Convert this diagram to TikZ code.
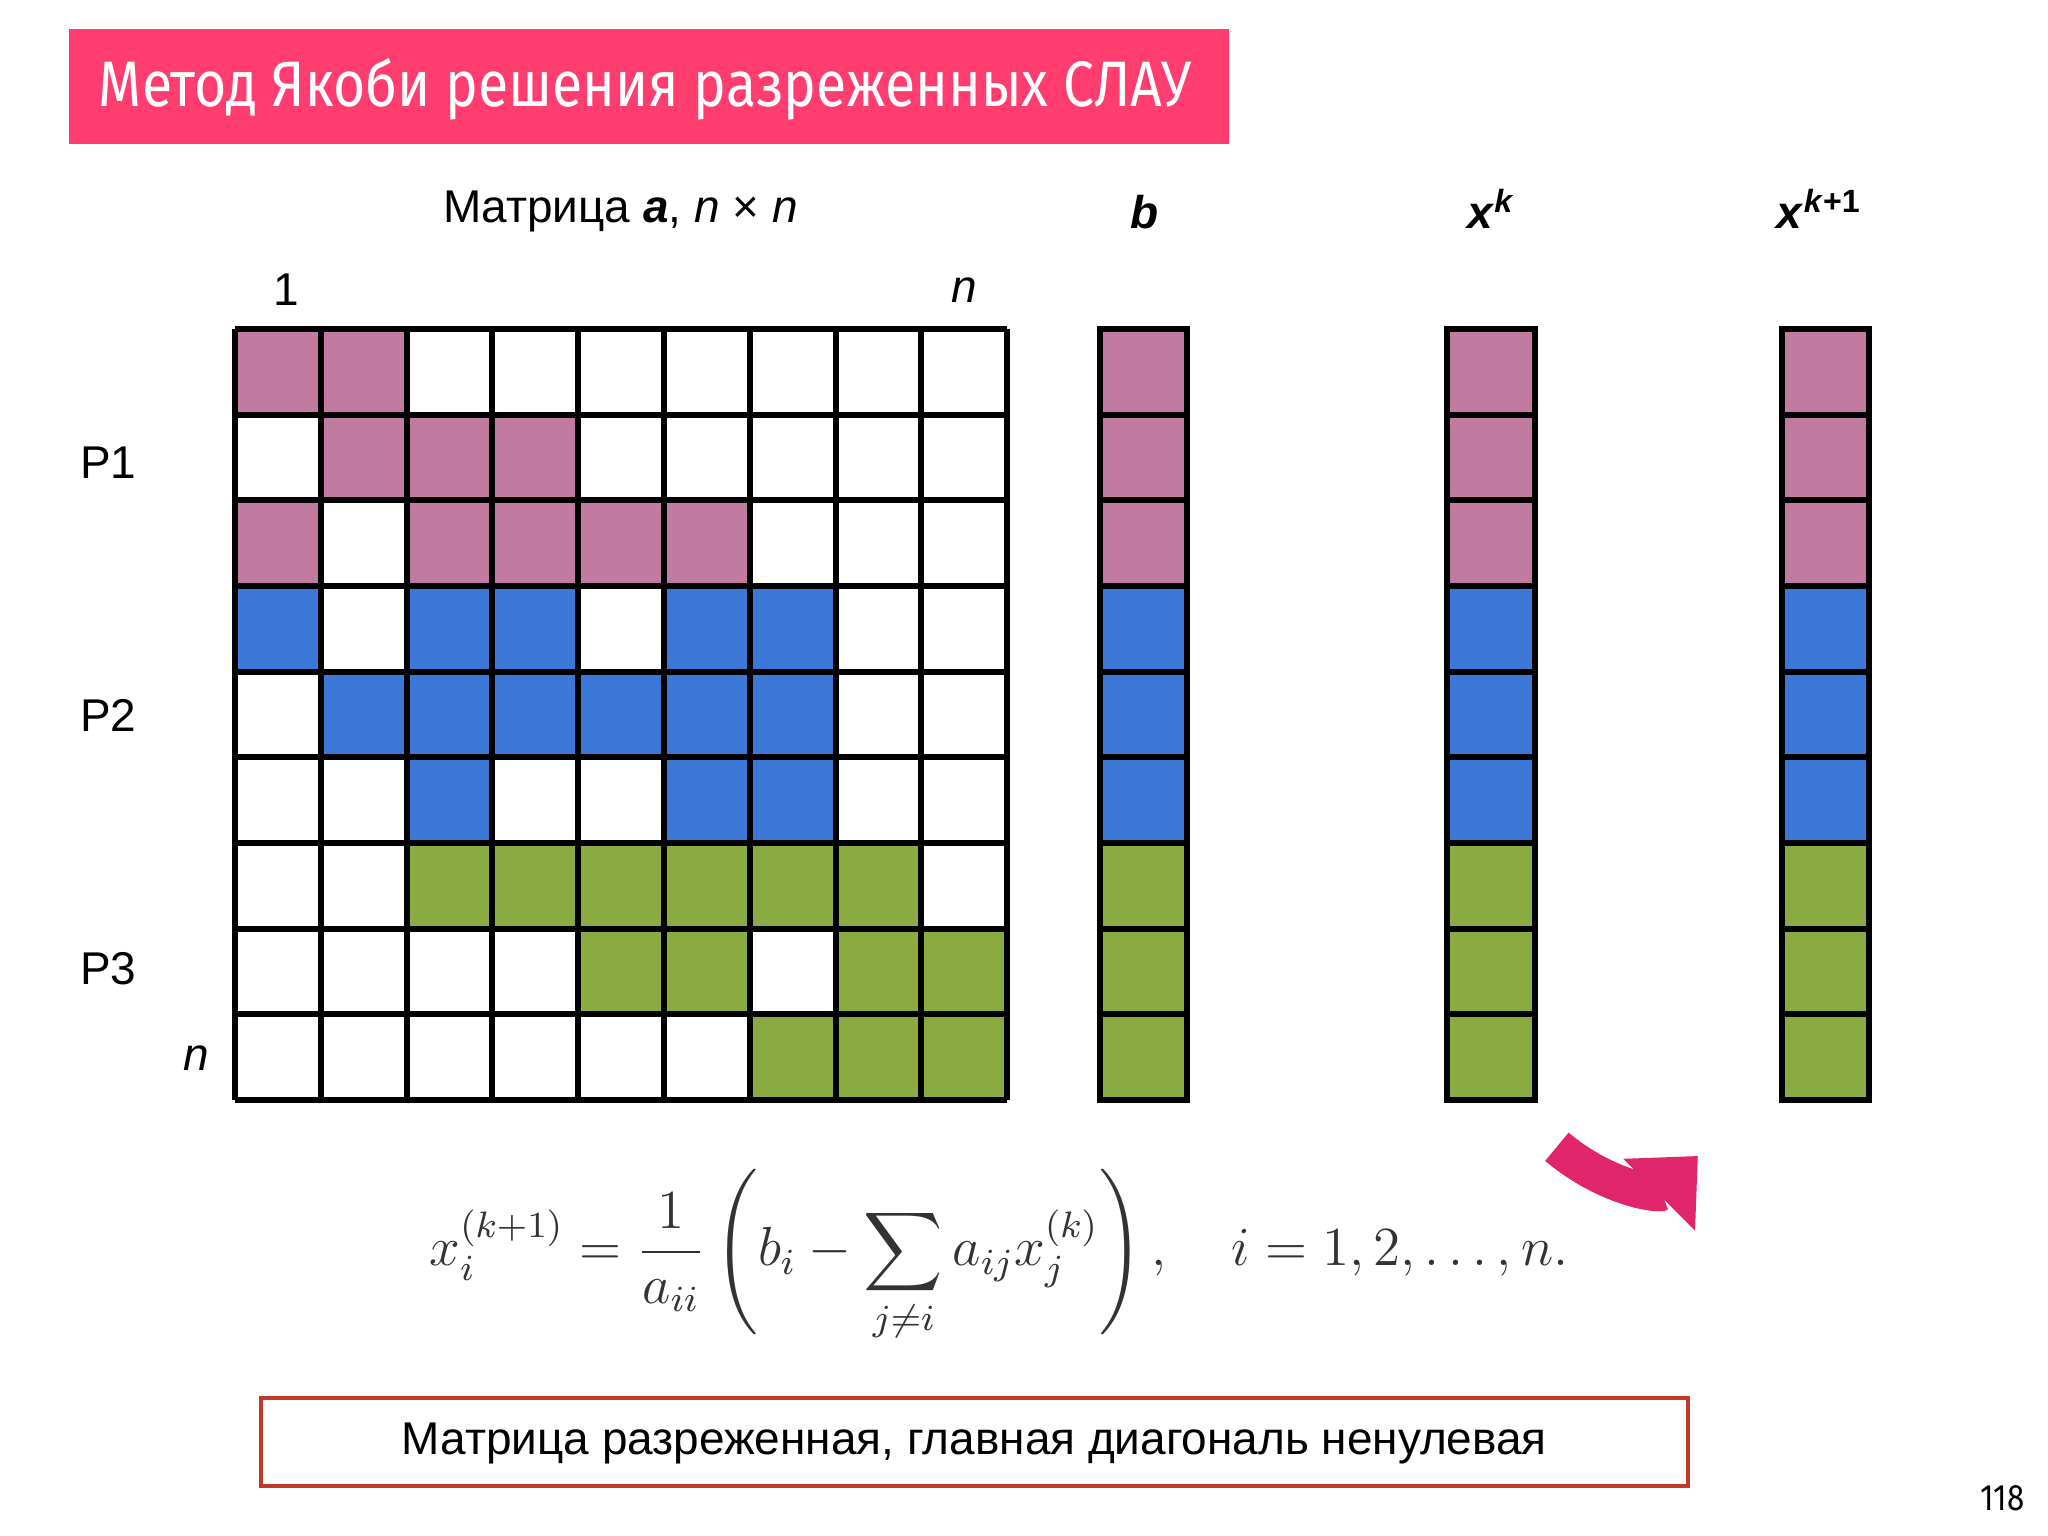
\documentclass[tikz,border=0pt]{standalone}
\usepackage{fontspec}
\usepackage{amsmath}
\setmainfont{Liberation Sans}
\newfontfamily\titlefont{Fira Sans}
\usetikzlibrary{arrows.meta}
\definecolor{pk}{HTML}{C27BA0}
\definecolor{bl}{HTML}{3C78D8}
\definecolor{gr}{HTML}{8AAA42}
\definecolor{ttl}{HTML}{FF3D6E}
\definecolor{arr}{HTML}{E0256A}
\definecolor{boxred}{HTML}{C0392B}
\tikzset{cell/.style={draw=black,line width=1.3pt},lbl/.style={font=\fontsize{10}{12}\selectfont}}
\begin{document}
\begin{tikzpicture}[x=0.01cm,y=-0.01cm]
\useasboundingbox (0,0) rectangle (1568,1176);
\fill[white] (0,0) rectangle (1568,1176);
\node[fill=ttl,minimum width=8.88cm,minimum height=0.88cm,inner sep=0pt] (title) at (497,66) {};
\node[text=white,font=\titlefont\fontsize{14}{17}\selectfont] (tt) at (494,68) {\scalebox{0.86}[1]{Метод Якоби решения разреженных СЛАУ}};
% matrix
\def\cw{65.67}\def\ch{65.56}
\def\fillrow#1#2#3{\foreach \c in {#3} {\fill[#2] ({180+(\c-1)*\cw},{252+(#1-1)*\ch}) rectangle ++(\cw,\ch);}}
\fillrow{1}{pk}{1,2}
\fillrow{2}{pk}{2,3,4}
\fillrow{3}{pk}{1,3,4,5,6}
\fillrow{4}{bl}{1,3,4,6,7}
\fillrow{5}{bl}{2,3,4,5,6,7}
\fillrow{6}{bl}{3,6,7}
\fillrow{7}{gr}{3,4,5,6,7,8}
\fillrow{8}{gr}{5,6,8,9}
\fillrow{9}{gr}{7,8,9}
\foreach \i in {0,...,9} {
  \draw[line width=1.3pt] ({180+\i*\cw},252) -- ({180+\i*\cw},842);
  \draw[line width=1.3pt] (180,{252+\i*\ch}) -- (771,{252+\i*\ch});
}
% vectors
\foreach \vx/\nm in {842/b,1108/xk,1364/xk1} {
  \foreach \r/\col in {1/pk,2/pk,3/pk,4/bl,5/bl,6/bl,7/gr,8/gr,9/gr} {
    \draw[cell,fill=\col] (\vx,{252+(\r-1)*\ch}) rectangle ++(67,\ch);
  }
}
\node[lbl] (ma) at (475,162) {Матрица \textbf{\textit{a}}, \textit{n} × \textit{n}};
\node[lbl] (lb) at (876,162) {\textbf{\textit{b}}};
\node[lbl] (lxk) at (1142,160) {\textbf{\textit{x}}\textsuperscript{\textbf{\textit{k}}}};
\node[lbl] (lxk1) at (1393,160) {\textbf{\textit{x}}\textsuperscript{\textbf{\textit{k}}\textbf{+1}}};
\node[lbl] (c1) at (219,222) {1};
\node[lbl] (cn) at (738,222) {\textit{n}};
\node[lbl] (p1) at (83,354) {P1};
\node[lbl] (p2) at (83,548) {P2};
\node[lbl] (p3) at (83,742) {P3};
\node[lbl] (rn) at (150,810) {\textit{n}};
% arrow
\coordinate (a0) at (1192,878);
\coordinate (a1) at (1300,885);
\draw[arr,line width=8pt,-{Triangle[length=0.42cm,width=0.75cm]}] (a0) .. controls (1230,910) and (1270,915) .. (a1);
% formula
\node[text=black!80,font=\fontsize{12}{14}\selectfont] (f) at (765,962) {$\displaystyle x_i^{(k+1)}=\frac{1}{a_{ii}}\left(b_i-\sum_{j\neq i}a_{ij}x_j^{(k)}\right),\quad i=1,2,\ldots,n.$};
\node[draw=boxred,line width=0.8pt,minimum width=10.92cm,minimum height=0.67cm,inner sep=0pt] (box) at (746,1104) {};
\node[lbl] (bt) at (746,1105) {Матрица разреженная, главная диагональ ненулевая};
\node[font=\titlefont\fontsize{8}{9}\selectfont] (pg) at (1533,1147) {\scalebox{0.85}[1]{118}};
\end{tikzpicture}
\end{document}
